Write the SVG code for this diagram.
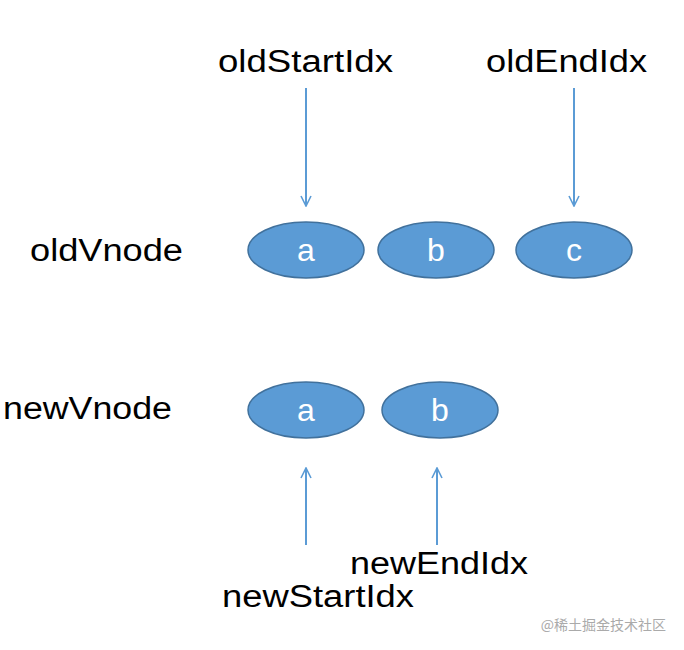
<svg xmlns="http://www.w3.org/2000/svg" width="684" height="650" viewBox="0 0 684 650">
<style>
.n{fill:#5b9bd5;stroke:#41719c;stroke-width:1.5}
.nt{font-family:"Liberation Sans",Arial,sans-serif;font-size:32px;fill:#fff;text-anchor:middle}
.t{font-family:"Liberation Sans",Arial,sans-serif;font-size:31px;fill:#000}
.c{stroke:#5b9bd5;stroke-width:2;fill:none}
</style>
<defs><marker id="v" viewBox="0 0 12 12" refX="11" refY="6" markerWidth="12" markerHeight="12" markerUnits="userSpaceOnUse" orient="auto"><path d="M1,1 L11,6 L1,11" fill="none" stroke="#5b9bd5" stroke-width="1.6"/></marker></defs>
<rect width="684" height="650" fill="#fff"/>
<text class="t" x="218" y="72" textLength="175" lengthAdjust="spacingAndGlyphs">oldStartIdx</text>
<text class="t" x="486" y="72" textLength="161" lengthAdjust="spacingAndGlyphs">oldEndIdx</text>
<text class="t" x="30" y="261" textLength="153" lengthAdjust="spacingAndGlyphs">oldVnode</text>
<text class="t" x="3" y="419" textLength="169" lengthAdjust="spacingAndGlyphs">newVnode</text>
<text class="t" x="350" y="574" textLength="178" lengthAdjust="spacingAndGlyphs">newEndIdx</text>
<text class="t" x="222" y="607" textLength="192" lengthAdjust="spacingAndGlyphs">newStartIdx</text>
<g id="connectors">
<line class="c" x1="306" y1="88" x2="306" y2="206" marker-end="url(#v)"/>
<line class="c" x1="574" y1="88" x2="574" y2="206" marker-end="url(#v)"/>
<line class="c" x1="306" y1="545" x2="306" y2="468" marker-end="url(#v)"/>
<line class="c" x1="437" y1="545" x2="437" y2="468" marker-end="url(#v)"/>
</g>
<g id="old-a"><ellipse class="n" cx="306" cy="250" rx="58" ry="28"/><text class="nt" x="306" y="261">a</text></g>
<g id="old-b"><ellipse class="n" cx="436" cy="250" rx="58" ry="28"/><text class="nt" x="436" y="261">b</text></g>
<g id="old-c"><ellipse class="n" cx="574" cy="250" rx="58" ry="28"/><text class="nt" x="574" y="261">c</text></g>
<g id="new-a"><ellipse class="n" cx="306" cy="410" rx="58" ry="28"/><text class="nt" x="306" y="421">a</text></g>
<g id="new-b"><ellipse class="n" cx="440" cy="410" rx="58" ry="28"/><text class="nt" x="440" y="421">b</text></g>
<text x="666" y="630" font-family="'Noto Sans CJK SC',sans-serif" font-size="14" fill="#aaa" text-anchor="end">@稀土掘金技术社区</text>
</svg>
